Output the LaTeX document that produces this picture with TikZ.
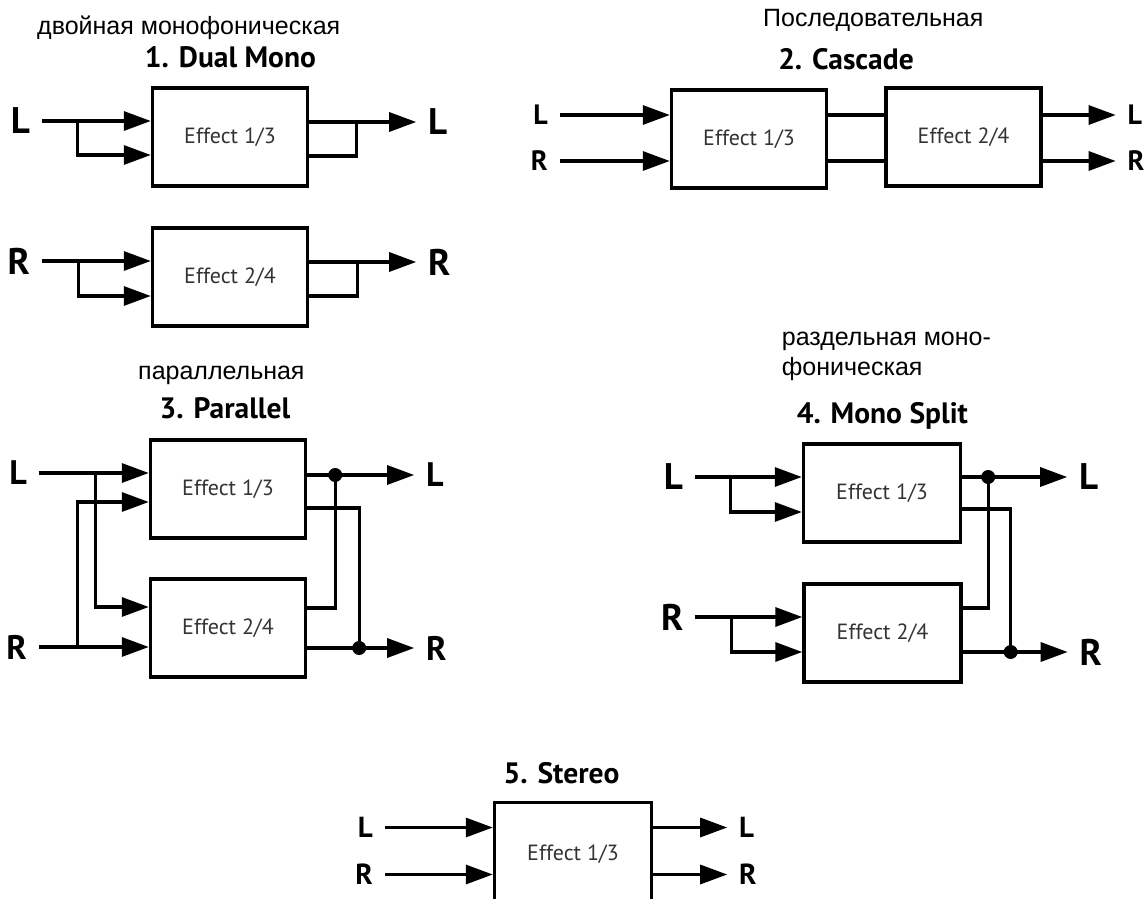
\documentclass[tikz,border=0pt]{standalone}
\usepackage{fontspec}
\setmainfont{PT Sans}
\newfontfamily\rufont{Liberation Sans}
\usetikzlibrary{positioning, arrows.meta}

\newcommand{\fsz}[1]{\fontsize{#1}{#1}\selectfont}

\begin{document}
\begin{tikzpicture}[
        x=1pt, y=-1pt,
        every node/.style={align=center},
        effect/.style={draw=black, line width=3.4pt, rectangle, minimum width=155pt, minimum height=98pt, inner sep=0pt, font=\fsz{22}, text=black!80},
        title/.style={font=\bfseries\fsz{29.5}, anchor=base, inner sep=0pt},
        rutext/.style={font=\rufont\fontsize{25}{30}\selectfont, anchor=base west, inner sep=0pt, align=left},
        chan/.style={font=\bfseries\fsz{#1}, inner sep=0pt, outer sep=12pt},
        chan/.default=34,
        sig/.style={line width=3.2pt, -{Triangle[length=27pt, width=19pt]}},
        wire/.style={line width=3.2pt},
        dot/.style={circle, fill=black, inner sep=0pt, minimum size=14pt}
    ]
    \useasboundingbox (0,0) rectangle (1146,899);
    \clip (0,0) rectangle (1146,899);

    % 1. Dual Mono
    \node[rutext] (ru1) at (37,35) {двойная монофоническая};
    \node[title] (t1) at (230.5,68) {1. Dual Mono};
    \node[effect] (dm1) at (230,137) {Effect 1/3};
    \node[effect] (dm2) at (230,277) {Effect 2/4};

    \coordinate (dm1a) at ([yshift=16pt]dm1.west);
    \coordinate (dm1c) at ([yshift=-18pt]dm1.west);
    \coordinate (dm1b) at ([yshift=15pt]dm1.east);
    \coordinate (dm1d) at ([yshift=-19pt]dm1.east);
    \coordinate (dm2a) at ([yshift=16pt]dm2.west);
    \coordinate (dm2c) at ([yshift=-19pt]dm2.west);
    \coordinate (dm2b) at ([yshift=15pt]dm2.east);
    \coordinate (dm2d) at ([yshift=-19pt]dm2.east);

    \node[chan=37, left=109pt of dm1a] (lin1) {L};
    \node[chan=37, left=109pt of dm2a] (rin1) {R};
    \node[chan=37, right=107pt of dm1b] (lout1) {L};
    \node[chan=37, right=107pt of dm2b] (rout1) {R};

    \coordinate (dm1j) at ([xshift=-73pt]dm1a);
    \coordinate (dm2j) at ([xshift=-72pt]dm2a);
    \coordinate (dm1k) at ([xshift=47pt]dm1b);
    \coordinate (dm2k) at ([xshift=48pt]dm2b);

    \draw[sig] (lin1) -- (dm1a);
    \draw[sig] (dm1j) |- (dm1c);
    \draw[sig] (dm1b) -- (lout1);
    \draw[wire] (dm1d) -| (dm1k);
    \draw[sig] (rin1) -- (dm2a);
    \draw[sig] (dm2j) |- (dm2c);
    \draw[sig] (dm2b) -- (rout1);
    \draw[wire] (dm2d) -| (dm2k);

    % 2. Cascade
    \node[rutext] (ru2) at (763,27) {Последовательная};
    \node[title] (t2) at (846,70) {2. Cascade};
    \node[effect] (c1) at (749,139) {Effect 1/3};
    \node[effect] (c2) at (963.5,137) {Effect 2/4};

    \coordinate (c1a) at ([yshift=24pt]c1.west);
    \coordinate (c1c) at ([yshift=-22pt]c1.west);
    \coordinate (c2b) at (c1a -| c2.east);
    \coordinate (c2d) at (c1c -| c2.east);

    \node[chan=28, left=110pt of c1a] (linc) {L};
    \node[chan=28, left=110pt of c1c] (rinc) {R};
    \node[chan=28, right=73pt of c2b] (loutc) {L};
    \node[chan=28, right=73pt of c2d] (routc) {R};

    \draw[sig] (linc) -- (c1a);
    \draw[sig] (rinc) -- (c1c);
    \draw[wire] (c1a -| c1.east) -- (c1a -| c2.west);
    \draw[wire] (c1c -| c1.east) -- (c1c -| c2.west);
    \draw[sig] (c2b) -- (loutc);
    \draw[sig] (c2d) -- (routc);

    % 3. Parallel
    \node[rutext] (ru3) at (138,379) {параллельная};
    \node[title] (t3) at (225,418) {3. Parallel};
    \node[effect] (p1) at (228,489) {Effect 1/3};
    \node[effect] (p2) at (228,628) {Effect 2/4};

    \coordinate (p1a) at ([yshift=16pt]p1.west);
    \coordinate (p1c) at ([yshift=-13pt]p1.west);
    \coordinate (p2a) at ([yshift=21pt]p2.west);
    \coordinate (p2c) at ([yshift=-19pt]p2.west);
    \coordinate (p1b) at ([yshift=14pt]p1.east);
    \coordinate (p1d) at ([yshift=-19pt]p1.east);
    \coordinate (p2b) at ([yshift=20pt]p2.east);
    \coordinate (p2d) at ([yshift=-20pt]p2.east);

    \node[chan=34, left=110pt of p1a] (linp) {L};
    \node[chan=34, left=110pt of p2c] (rinp) {R};
    \node[chan=34, right=107pt of p1b] (loutp) {L};
    \node[chan=34, right=107pt of p2d] (routp) {R};

    \coordinate (pjl) at ([xshift=-53pt]p1a);
    \coordinate (pjr) at ([xshift=-71pt]p2c);

    \draw[sig] (linp) -- (p1a);
    \draw[sig] (rinp) -- (p2c);
    \draw[sig] (pjl) |- (p2a);
    \draw[sig] (pjr) |- (p1c);
    \draw[sig] (p1b) -- (loutp);
    \draw[sig] (p2d) -- (routp);
    \node[dot] (pdl) at ([xshift=28pt]p1b) {};
    \node[dot] (pdr) at ([xshift=52pt]p2d) {};
    \draw[wire] (p2b) -| (pdl.center);
    \draw[wire] (p1d) -| (pdr.center);

    % 4. Mono Split
    \node[rutext] (ru4) at (781.7,375) {раздельная моно-\\фоническая};
    \node[title] (t4) at (882.4,423) {4. Mono Split};
    \node[effect, minimum width=157pt] (m1) at (882,493) {Effect 1/3};
    \node[effect, minimum width=157pt] (m2) at (882.5,633) {Effect 2/4};

    \coordinate (m1a) at ([yshift=16pt]m1.west);
    \coordinate (m1c) at ([yshift=-19pt]m1.west);
    \coordinate (m2a) at ([yshift=16pt]m2.west);
    \coordinate (m2c) at ([yshift=-19pt]m2.west);
    \coordinate (m1b) at ([yshift=16pt]m1.east);
    \coordinate (m1d) at ([yshift=-16pt]m1.east);
    \coordinate (m2b) at ([yshift=25pt]m2.east);
    \coordinate (m2d) at ([yshift=-19pt]m2.east);

    \node[chan=37, left=107pt of m1a] (linm) {L};
    \node[chan=37, left=107pt of m2a] (rinm) {R};
    \node[chan=37, right=105pt of m1b] (loutm) {L};
    \node[chan=37, right=105pt of m2d] (routm) {R};

    \coordinate (mjl) at ([xshift=-71pt]m1a);
    \coordinate (mjr) at ([xshift=-71pt]m2a);

    \draw[sig] (linm) -- (m1a);
    \draw[sig] (mjl) |- (m1c);
    \draw[sig] (rinm) -- (m2a);
    \draw[sig] (mjr) |- (m2c);
    \draw[sig] (m1b) -- (loutm);
    \draw[sig] (m2d) -- (routm);
    \node[dot] (mdl) at ([xshift=26pt]m1b) {};
    \node[dot] (mdr) at ([xshift=48pt]m2d) {};
    \draw[wire] (m2b) -| (mdl.center);
    \draw[wire] (m1d) -| (mdr.center);

    % 5. Stereo
    \node[title] (t5) at (561.5,783) {5. Stereo};
    \node[effect, minimum width=157pt, minimum height=104pt] (s1) at (573,854.5) {Effect 1/3};

    \coordinate (s1a) at ([yshift=27pt]s1.west);
    \coordinate (s1c) at ([yshift=-20pt]s1.west);
    \coordinate (s1b) at ([yshift=27pt]s1.east);
    \coordinate (s1d) at ([yshift=-20pt]s1.east);

    \node[chan=29, left=108pt of s1a] (lins) {L};
    \node[chan=29, left=108pt of s1c] (rins) {R};
    \node[chan=29, right=74pt of s1b] (louts) {L};
    \node[chan=29, right=74pt of s1d] (routs) {R};

    \draw[sig] (lins) -- (s1a);
    \draw[sig] (rins) -- (s1c);
    \draw[sig] (s1b) -- (louts);
    \draw[sig] (s1d) -- (routs);

\end{tikzpicture}
\end{document}
